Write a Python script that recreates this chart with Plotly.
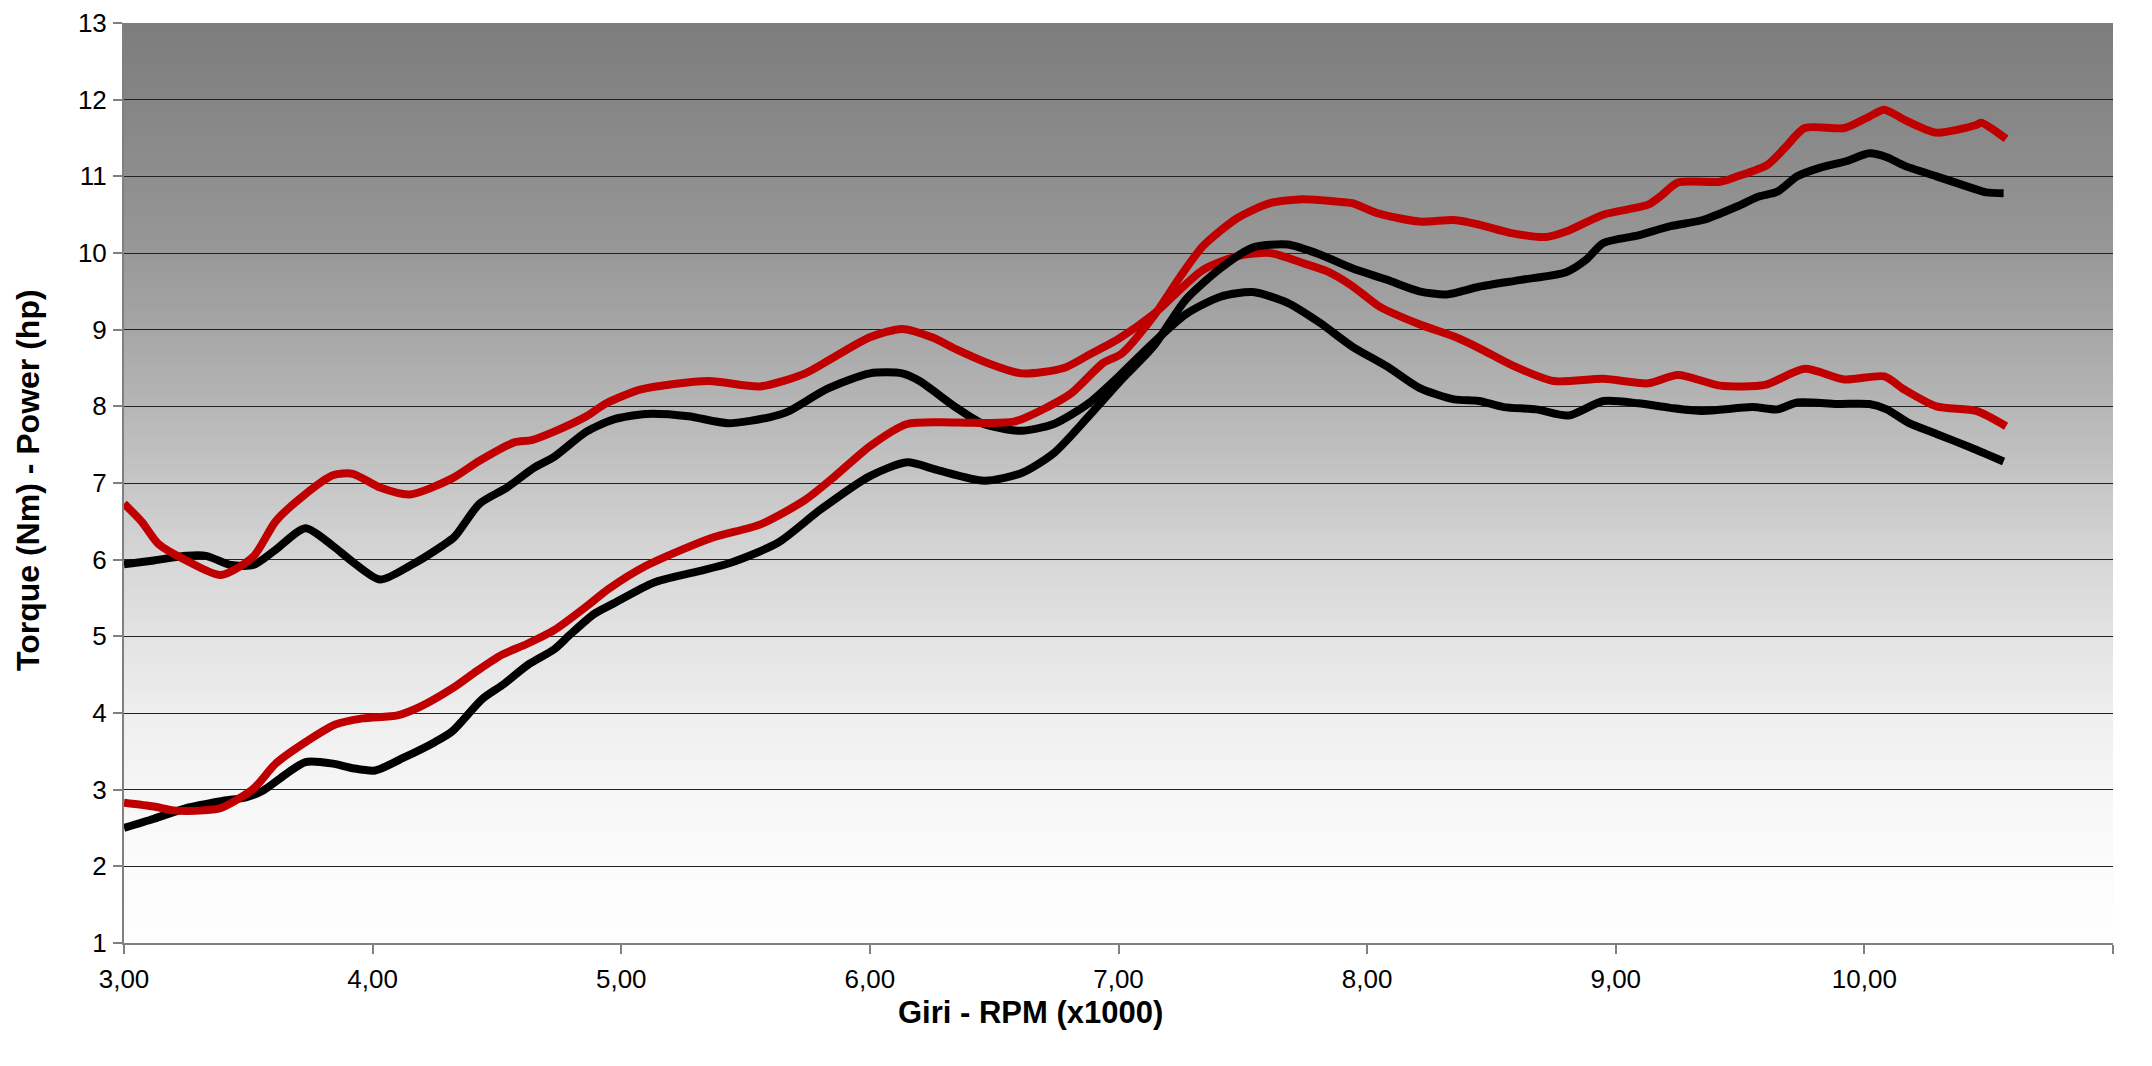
import numpy as np
import plotly.graph_objects as go

# ---- data (rpm x1000, values) ----
bt_rpm = [3.00, 3.12, 3.25, 3.33, 3.43, 3.52, 3.61, 3.73, 3.84, 3.92, 4.03, 4.15, 4.28, 4.33,
          4.43, 4.54, 4.65, 4.73, 4.86, 4.97, 5.10, 5.27, 5.43, 5.60, 5.67, 5.83, 6.00, 6.13,
          6.20, 6.34, 6.45, 6.60, 6.74, 6.88, 7.01, 7.14, 7.27, 7.41, 7.54, 7.68, 7.81, 7.94,
          8.08, 8.21, 8.35, 8.45, 8.55, 8.68, 8.81, 8.95, 9.09, 9.22, 9.35, 9.55, 9.65, 9.73,
          9.89, 10.02, 10.09, 10.18, 10.29, 10.43, 10.56]
bt_val = [5.94, 5.99, 6.05, 6.05, 5.93, 5.93, 6.13, 6.41, 6.18, 5.97, 5.74, 5.92, 6.18, 6.30,
          6.73, 6.94, 7.20, 7.34, 7.67, 7.83, 7.90, 7.87, 7.78, 7.86, 7.93, 8.23, 8.43, 8.43,
          8.33, 8.00, 7.78, 7.68, 7.77, 8.04, 8.42, 8.83, 9.20, 9.43, 9.49, 9.35, 9.09, 8.78,
          8.52, 8.24, 8.09, 8.07, 7.99, 7.96, 7.88, 8.07, 8.04, 7.98, 7.94, 7.99, 7.96, 8.05,
          8.03, 8.03, 7.96, 7.78, 7.64, 7.46, 7.28]

rt_rpm = [3.00, 3.07, 3.14, 3.25, 3.39, 3.52, 3.61, 3.72, 3.84, 3.92, 4.03, 4.15, 4.32, 4.43,
          4.57, 4.64, 4.73, 4.86, 4.94, 5.08, 5.35, 5.56, 5.74, 5.85, 6.00, 6.13, 6.25, 6.35,
          6.47, 6.61, 6.78, 6.88, 7.00, 7.14, 7.34, 7.48, 7.61, 7.74, 7.84, 7.94, 8.05, 8.21,
          8.35, 8.45, 8.58, 8.75, 8.95, 9.13, 9.25, 9.42, 9.60, 9.76, 9.92, 10.08, 10.16,
          10.29, 10.45, 10.57]
rt_val = [6.73, 6.50, 6.20, 5.99, 5.80, 6.04, 6.50, 6.83, 7.10, 7.12, 6.94, 6.85, 7.06, 7.29,
          7.53, 7.56, 7.67, 7.87, 8.04, 8.22, 8.33, 8.26, 8.43, 8.63, 8.90, 9.01, 8.90, 8.74,
          8.57, 8.43, 8.50, 8.67, 8.88, 9.20, 9.78, 9.96, 10.00, 9.87, 9.76, 9.57, 9.30, 9.07,
          8.91, 8.76, 8.54, 8.33, 8.36, 8.30, 8.41, 8.27, 8.28, 8.49, 8.35, 8.39, 8.22,
          8.00, 7.94, 7.74]

bp_rpm = [3.00, 3.12, 3.25, 3.39, 3.49, 3.56, 3.65, 3.73, 3.84, 3.92, 4.01, 4.12, 4.25, 4.32,
          4.44, 4.52, 4.63, 4.73, 4.79, 4.89, 4.97, 5.13, 5.30, 5.44, 5.63, 5.80, 6.00, 6.15,
          6.27, 6.46, 6.61, 6.74, 6.88, 7.01, 7.14, 7.27, 7.41, 7.54, 7.68, 7.81, 7.94, 8.08,
          8.21, 8.32, 8.45, 8.62, 8.80, 8.88, 8.95, 9.09, 9.22, 9.35, 9.49, 9.57, 9.65, 9.73,
          9.82, 9.93, 10.02, 10.09, 10.16, 10.29, 10.43, 10.49, 10.56]
bp_val = [2.50, 2.62, 2.76, 2.85, 2.90, 2.99, 3.20, 3.36, 3.34, 3.28, 3.25, 3.41, 3.62, 3.76,
          4.18, 4.36, 4.64, 4.83, 5.01, 5.29, 5.43, 5.70, 5.84, 5.96, 6.22, 6.65, 7.09, 7.27,
          7.17, 7.03, 7.13, 7.39, 7.87, 8.34, 8.78, 9.39, 9.80, 10.07, 10.11, 9.98, 9.80, 9.65,
          9.50, 9.46, 9.56, 9.65, 9.75, 9.91, 10.13, 10.23, 10.35, 10.43, 10.61, 10.73, 10.80, 11.00,
          11.11, 11.20, 11.30, 11.25, 11.14, 11.00, 10.85, 10.79, 10.78]

rp_rpm = [3.00, 3.12, 3.20, 3.32, 3.39, 3.52, 3.61, 3.73, 3.85, 3.96, 4.10, 4.19, 4.32, 4.42,
          4.52, 4.62, 4.73, 4.86, 4.95, 5.10, 5.36, 5.56, 5.74, 5.86, 6.00, 6.15, 6.34, 6.58,
          6.72, 6.81, 6.94, 7.01, 7.14, 7.25, 7.34, 7.48, 7.61, 7.74, 7.88, 7.94, 8.04, 8.21,
          8.35, 8.45, 8.58, 8.72, 8.80, 8.95, 9.13, 9.18, 9.25, 9.42, 9.49, 9.61, 9.68, 9.76,
          9.92, 10.02, 10.08, 10.16, 10.29, 10.45, 10.47, 10.57]
rp_val = [2.83, 2.78, 2.73, 2.73, 2.76, 3.01, 3.34, 3.62, 3.85, 3.93, 3.97, 4.08, 4.32, 4.55,
          4.76, 4.90, 5.08, 5.39, 5.62, 5.92, 6.28, 6.46, 6.78, 7.09, 7.48, 7.77, 7.79, 7.80,
          8.00, 8.17, 8.57, 8.68, 9.17, 9.70, 10.09, 10.46, 10.65, 10.70, 10.67, 10.65, 10.52, 10.41,
          10.43, 10.37, 10.26, 10.21, 10.28, 10.50, 10.63, 10.74, 10.92, 10.93, 11.00, 11.15, 11.37, 11.63,
          11.63, 11.78, 11.87, 11.74, 11.57, 11.67, 11.70, 11.49]

x_ticks = [3, 4, 5, 6, 7, 8, 9, 10, 11]
y_ticks = list(range(1, 14))

RED = "#c00000"
BLACK = "#000000"
FONT = "Liberation Sans, Arial, sans-serif"

# page body has an 8px margin: figure is sized/positioned to compensate
W, H = 2136, 1050
PL, PR, PT, PB = 124, 2113, 23, 943  # plot-area edges in window pixels
ML, MR, MT, MB = PL - 8, 8 + W - PR, PT - 8, 8 + H - PB

fig = go.Figure()
series = [
    (bt_rpm, bt_val, BLACK, "Torque"),
    (rt_rpm, rt_val, RED, "Torque"),
    (bp_rpm, bp_val, BLACK, "Power"),
    (rp_rpm, rp_val, RED, "Power"),
]
for xs, ys, col, nm in series:
    fig.add_trace(go.Scatter(x=xs, y=ys, mode="lines", name=nm,
                             line=dict(color=col, width=8, shape="spline", smoothing=0.7),
                             showlegend=False))

# vertical gradient background (styling): stacked rects, each reaching the top
g_levels = [1, 2, 3, 4, 5, 6, 7, 8, 9, 10, 11, 12, 13]
g_grays = [254, 251, 246, 238, 227, 214, 198, 182, 166, 152, 142, 133, 125]
shapes = []
for y0 in np.arange(1.0, 13.0, 0.05):
    g = int(round(np.interp(y0 + 0.025, g_levels, g_grays)))
    shapes.append(dict(type="rect", xref="paper", yref="y", x0=0, x1=1,
                       y0=y0, y1=13, layer="below",
                       fillcolor=f"rgb({g},{g},{g})", line=dict(width=0)))

fig.update_layout(
    width=W, height=H,
    margin=dict(l=ML, r=MR, t=MT, b=MB, pad=0, autoexpand=False),
    paper_bgcolor="white", plot_bgcolor="white",
    separators=",.",
    font=dict(family=FONT, size=25, color="black"),
    shapes=shapes,
    showlegend=False,
)
fig.update_xaxes(range=[3, 11], tickvals=x_ticks, tickformat=".2f",
                 showgrid=False, zeroline=False, automargin=False,
                 showline=True, linecolor="#808080", linewidth=2,
                 ticks="outside", ticklen=9, tickcolor="#808080", tickwidth=2,
                 tickfont=dict(size=26), ticklabelstandoff=3)
fig.update_yaxes(range=[1, 13], tickvals=y_ticks, automargin=False,
                 showgrid=True, gridcolor="#222222", gridwidth=1.3, zeroline=False,
                 showline=True, linecolor="#808080", linewidth=2,
                 ticks="outside", ticklen=9, tickcolor="#808080", tickwidth=2,
                 tickfont=dict(size=26), ticklabelstandoff=1)

pw, ph = PR - PL, PB - PT
fig.add_annotation(text="<b>Giri - RPM (x1000)</b>", xref="paper", yref="paper",
                   x=(1030 - PL) / pw, y=-(1012 - PB) / ph,
                   showarrow=False, font=dict(size=31, family=FONT),
                   xanchor="center", yanchor="middle")
fig.add_annotation(text="<b>Torque (Nm) - Power (hp)</b>", xref="paper", yref="paper",
                   x=-(PL - 28) / pw, y=1 - (480 - PT) / ph,
                   showarrow=False, textangle=-90, font=dict(size=32, family=FONT),
                   xanchor="center", yanchor="middle")

fig.write_html("out.html")
